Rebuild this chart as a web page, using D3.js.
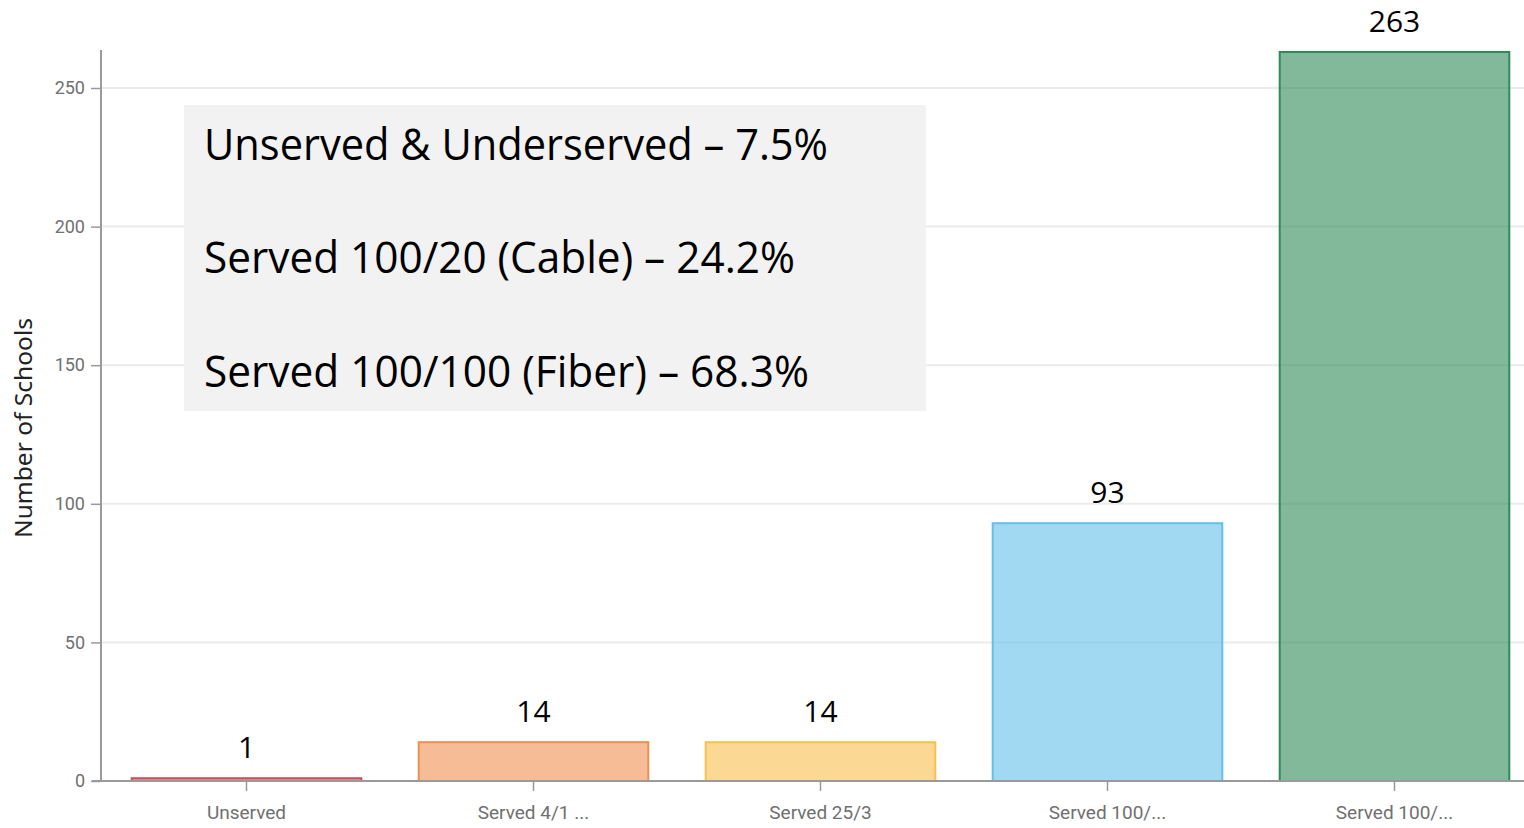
<!DOCTYPE html>
<html>
<head>
<meta charset="utf-8">
<script src="https://cdn.jsdelivr.net/npm/d3@7"></script>
<style>
  html, body { margin: 0; padding: 0; background: #fff; }
  svg { display: block; }
</style>
</head>
<body>
<svg id="chart" width="1524" height="828"></svg>
<script>
// ---- data ----
const categories = ["Unserved", "Served 4/1 ...", "Served 25/3", "Served 100/...", "Served 100/..."];
const categoryKeys = ["unserved", "served4", "served25", "served100a", "served100b"];
const values = [1, 14, 14, 93, 263];
const barColors = ["#c8505a", "#ee8f50", "#f8c04d", "#64c0e9", "#2e8b57"];
const yTicks = [0, 50, 100, 150, 200, 250];
const yTitle = "Number of Schools";
const noteLines = [
  "Unserved & Underserved \u2013 7.5%",
  "Served 100/20 (Cable) \u2013 24.2%",
  "Served 100/100 (Fiber) \u2013 68.3%"
];

// ---- layout ----
const svg = d3.select("#chart");
const W = 1524, H = 828;
const y0 = 781;

const x = d3.scaleBand()
  .domain(categoryKeys)
  .range([103, 103 + 287 * 5])
  .paddingInner(0.2)
  .paddingOuter(0.1);

const y = d3.scaleLinear()
  .domain([0, 250])
  .range([y0, 88]);

// grid lines
svg.append("g")
  .selectAll("line")
  .data(yTicks.filter(d => d > 0))
  .join("line")
  .attr("x1", 101).attr("x2", W)
  .attr("y1", d => y(d)).attr("y2", d => y(d))
  .attr("stroke", "#ebebeb")
  .attr("stroke-width", 2);

// y axis
const yAxis = svg.append("g")
  .attr("transform", "translate(101,0)")
  .call(d3.axisLeft(y).tickValues(yTicks).tickSize(10).tickPadding(6));
yAxis.select(".domain").remove();
yAxis.selectAll(".tick line").attr("stroke", "#9a9a9a").attr("stroke-width", 1.5);
yAxis.selectAll(".tick text")
  .attr("fill", "#707070")
  .style("font-family", "Roboto, sans-serif")
  .style("font-size", "18px");
svg.append("line")
  .attr("x1", 101).attr("x2", 101)
  .attr("y1", 50).attr("y2", y0)
  .attr("stroke", "#9a9a9a").attr("stroke-width", 2);

// annotation box (drawn over grid)
const box = svg.append("g");
box.append("rect")
  .attr("x", 184).attr("y", 105)
  .attr("width", 742).attr("height", 306)
  .attr("fill", "#f2f2f2");
const noteBaselines = [160, 273, 387];
const noteWidths = [624, 591, 605];
box.selectAll("text")
  .data(noteLines)
  .join("text")
  .attr("x", 204)
  .attr("y", (d, i) => noteBaselines[i])
  .attr("textLength", (d, i) => noteWidths[i])
  .attr("lengthAdjust", "spacingAndGlyphs")
  .attr("fill", "#000")
  .style("font-family", "'Open Sans', sans-serif")
  .style("font-size", "43px")
  .text(d => d);

// bars
svg.append("g")
  .selectAll("rect")
  .data(values)
  .join("rect")
  .attr("x", (d, i) => x(categoryKeys[i]))
  .attr("width", x.bandwidth())
  .attr("y", d => y(d))
  .attr("height", d => Math.max(y0 - y(d), 1))
  .attr("fill", (d, i) => barColors[i])
  .attr("fill-opacity", 0.6)
  .attr("stroke", (d, i) => barColors[i])
  .attr("stroke-width", 2);

// value labels
svg.append("g")
  .selectAll("text")
  .data(values)
  .join("text")
  .attr("x", (d, i) => x(categoryKeys[i]) + x.bandwidth() / 2)
  .attr("y", d => y(d) - 20)
  .attr("text-anchor", "middle")
  .attr("fill", "#000")
  .style("font-family", "'Open Sans', sans-serif")
  .style("font-size", "30px")
  .text(d => d);

// x axis
const xAxis = svg.append("g")
  .attr("transform", `translate(0,${y0})`)
  .call(d3.axisBottom(x).tickSize(10).tickPadding(15).tickFormat((k, i) => categories[i]));
xAxis.select(".domain").remove();
xAxis.selectAll(".tick line").attr("stroke", "#9a9a9a").attr("stroke-width", 1.5);
xAxis.selectAll(".tick text")
  .attr("fill", "#707070")
  .style("font-family", "Roboto, sans-serif")
  .style("font-size", "19px");
svg.append("line")
  .attr("x1", 92).attr("x2", W)
  .attr("y1", y0).attr("y2", y0)
  .attr("stroke", "#9a9a9a").attr("stroke-width", 2);

// y title
svg.append("text")
  .attr("transform", "translate(32,428) rotate(-90)")
  .attr("text-anchor", "middle")
  .attr("textLength", 220)
  .attr("lengthAdjust", "spacingAndGlyphs")
  .attr("fill", "#222")
  .style("font-family", "'Noto Sans', sans-serif")
  .style("font-size", "23px")
  .text(yTitle);
</script>
</body>
</html>
